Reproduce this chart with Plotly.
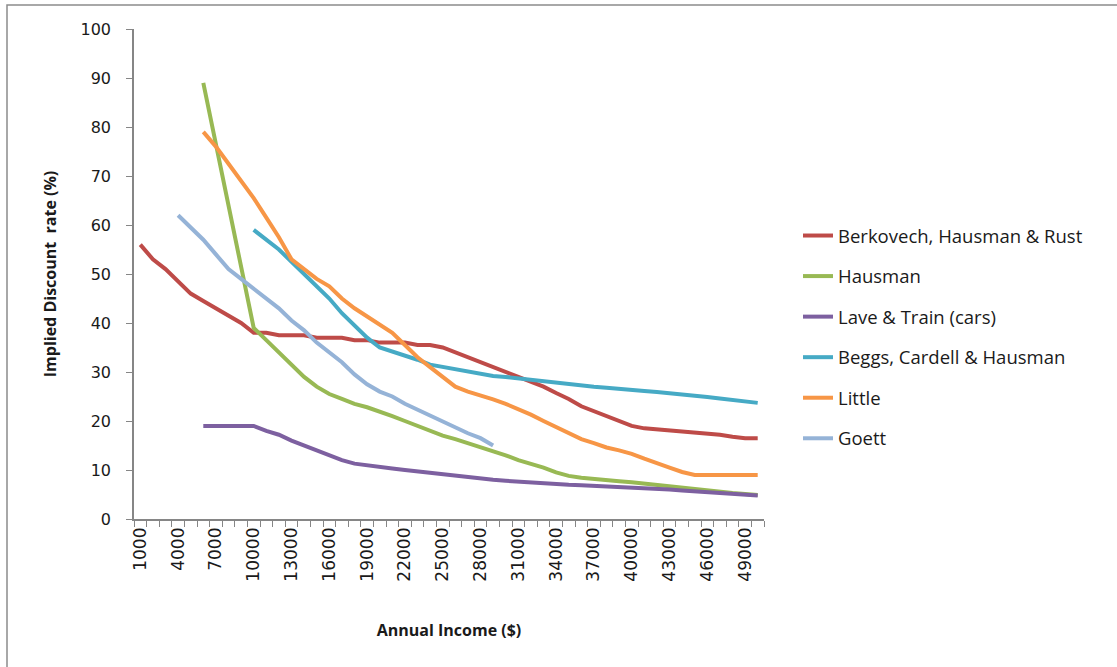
import plotly.graph_objects as go

income = [1000 * k for k in range(1, 51)]
tick_labels = [str(v) for v in income[::3]]

N = None
berkovech = [56, 53, 51, 48.5, 46, 44.5, 43, 41.5, 40, 38,
             38, 37.5, 37.5, 37.5, 37, 37, 37, 36.5, 36.5, 36,
             36, 36, 35.5, 35.5, 35, 34, 33, 32, 31, 30,
             29, 28, 27, 25.7, 24.5, 23, 22, 21, 20, 19,
             18.5, 18.3, 18.2, 18, 17.8, 17.5, 17.2, 16.8, 16.5, 16.5]
hausman = [N, N, N, N, N, 89, N, N, N, 39,
           36.5, 34, 31.5, 29, 27, 25.5, 24.5, 23.5, 22.8, 22,
           21, 20, 19, 18, 17, 16.3, 15.5, 14.8, 14, 13,
           12, 11.3, 10.5, 9.5, 8.8, 8.4, 8.1, 8, 7.7, 7.5,
           7.2, 7, 6.8, 6.5, 6.2, 5.9, 5.6, 5.3, 5.1, 4.9]
lave = [N, N, N, N, N, 19, 19, 19, 19, 19,
        18, 17.2, 16, 15, 14, 13, 12, 11.3, 10.9, 10.6,
        10.3, 10, 9.7, 9.4, 9, 8.7, 8.5, 8.2, 8, 7.8,
        7.6, 7.5, 7.4, 7.2, 7, 6.9, 6.8, 6.7, 6.6, 6.5,
        6.3, 6.2, 6, 5.8, 5.6, 5.5, 5.3, 5.2, 5, 4.8]
beggs = [N, N, N, N, N, N, N, N, N, 59,
         57, 55, 52.5, 50, 47.5, 45, 42, 39.5, 37, 35,
         34.2, 33.5, 32.5, 31.5, 31, 30.5, 30, 29.5, 29.2, 29,
         28.7, 28.4, 28, 27.7, 27.5, 27.3, 27, 26.8, 26.5, 26.3,
         26.1, 25.9, 25.7, 25.4, 25.1, 24.9, 24.6, 24.3, 24, 23.7]
little = [N, N, N, N, N, 79, 76, 72.5, 69, 65.5,
          61.5, 57.5, 53, 51, 49, 47.5, 45, 43, 41.3, 39.8,
          38, 35.5, 33, 31, 29, 27, 26, 25.3, 24.4, 23.5,
          22.5, 21.3, 20, 18.7, 17.4, 16.3, 15.5, 14.6, 14, 13.3,
          12.3, 11.5, 10.5, 9.6, 9, 9, 9, 9, 9, 9]
goett = [N, N, N, 62, 59.5, 57, 54, 51, 49, 47,
         45, 43, 40.5, 38.5, 36, 34, 32, 29.5, 27.5, 26,
         25, 23.5, 22.3, 21, 20, 18.7, 17.5, 16.5, 15, N,
         N, N, N, N, N, N, N, N, N, N,
         N, N, N, N, N, N, N, N, N, N]

series = [
    ("Berkovech, Hausman & Rust", berkovech, "#BE4B48"),
    ("Hausman", hausman, "#98B954"),
    ("Lave & Train (cars)", lave, "#7D60A0"),
    ("Beggs, Cardell & Hausman", beggs, "#46AAC5"),
    ("Little", little, "#F79646"),
    ("Goett", goett, "#95B3D7"),
]

fig = go.Figure()
for i, (name, vals, col) in enumerate(series):
    fig.add_trace(go.Scatter(
        x=income, y=vals, mode="lines", name=name,
        line=dict(color=col, width=4), connectgaps=True,
        legendgroup=str(i),
    ))

axis_col = "#868686"
L, R, T, B = 134, 764, 29, 519
W, H = 1117, 667
pw, ph = R - L, B - T

fig.update_layout(
    width=W, height=H,
    paper_bgcolor="white", plot_bgcolor="white",
    margin=dict(l=L, r=W - R, t=T, b=H - B, autoexpand=False),
    font=dict(family="DejaVu Sans", color="#1a1a1a"),
    showlegend=True,
    legend=dict(
        x=(798 - L) / pw, y=(B - 217) / ph, xanchor="left", yanchor="top",
        font=dict(family="Open Sans", size=18.5, color="#1a1a1a"),
        tracegroupgap=13.5, traceorder="grouped",
        bgcolor="rgba(0,0,0,0)",
    ),
    xaxis=dict(
        range=[500, 50500], showgrid=False, zeroline=False,
        showline=True, linecolor=axis_col, linewidth=1.5,
        tickmode="array", tickvals=income[::3], ticktext=tick_labels,
        ticks="", tickangle=-90,
        tickfont=dict(family="DejaVu Sans", size=17, color="#1a1a1a"),
        minor=dict(tickmode="linear", tick0=500, dtick=1000, ticks="outside",
                   ticklen=6, tickcolor=axis_col, tickwidth=1, showgrid=False),
        title=dict(text="<b>Annual Income ($)</b>", standoff=44,
                   font=dict(family="Open Sans", size=16, color="#1a1a1a")),
    ),
    yaxis=dict(
        range=[0, 100], showgrid=False, zeroline=False,
        showline=True, linecolor=axis_col, linewidth=1.5,
        tickmode="linear", tick0=0, dtick=10,
        ticks="outside", ticklen=6, tickcolor=axis_col,
        tickfont=dict(family="DejaVu Sans", size=16, color="#1a1a1a"),
        ticklabelstandoff=12,
        title=dict(text="<b>Implied Discount  rate (%)</b>", standoff=20,
                   font=dict(family="Open Sans", size=16, color="#1a1a1a")),
    ),
    shapes=[dict(type="rect", xref="paper", yref="paper",
                 x0=(7 - L) / pw, x1=(1130 - L) / pw,
                 y0=(B - 700) / ph, y1=(B - 5) / ph,
                 line=dict(color="#8c8c8c", width=1.5), layer="below")],
)

fig.write_html("out.html", config={"displayModeBar": False},
               post_script="document.body.style.margin='0';")
